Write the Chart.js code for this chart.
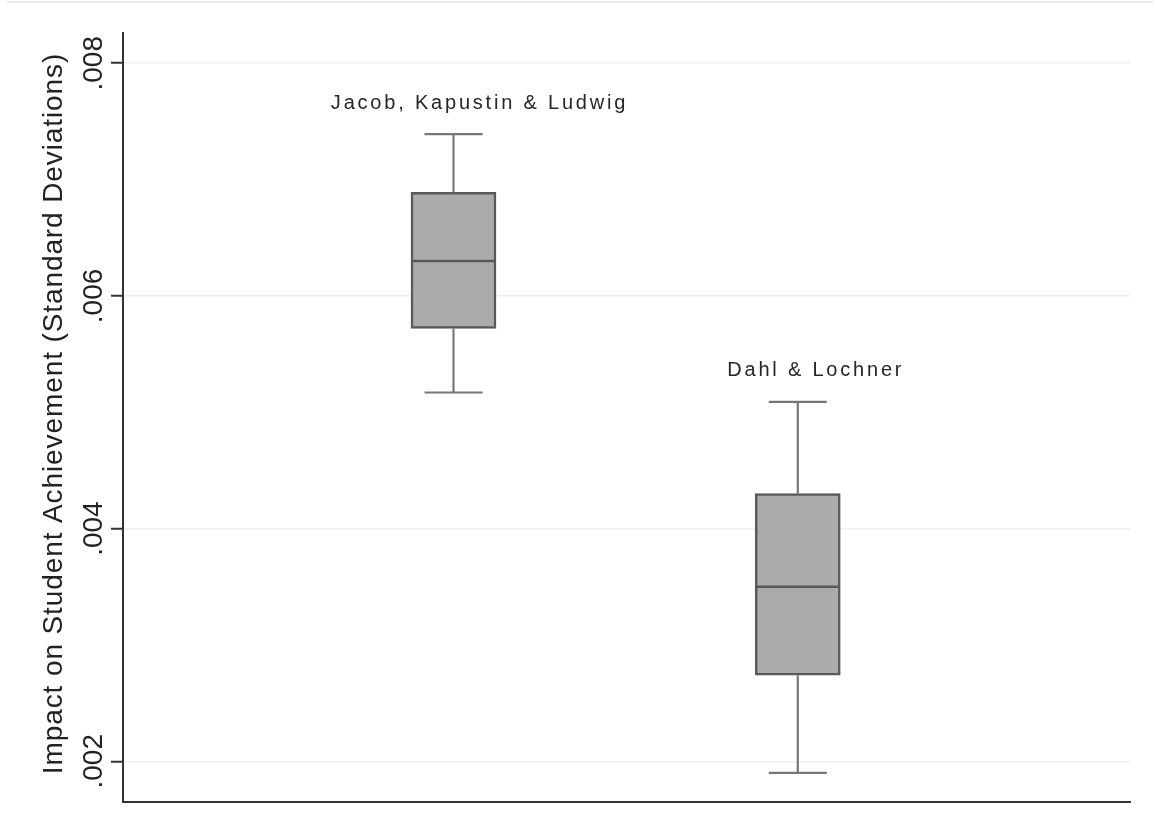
<!DOCTYPE html>
<html>
<head>
<meta charset="utf-8">
<script src="https://cdn.jsdelivr.net/npm/chart.js@4/dist/chart.umd.min.js"></script>
<style>
  html, body { margin: 0; padding: 0; background: #fff; }
  #wrap { position: relative; width: 1156px; height: 838px; }
  #rule { position: absolute; left: 7px; right: 3px; top: 1px; height: 2px; background: #ececec; }
  canvas { display: block; }
</style>
</head>
<body>
<div id="wrap">
  <div id="rule"></div>
  <canvas id="c" width="1156" height="838"></canvas>
</div>
<script>
// Box-plot summaries for each study
const studies     = ['Jacob, Kapustin & Ludwig', 'Dahl & Lochner'];
const whiskerLow  = [0.00517, 0.00190];
const quartile1   = [0.00572, 0.00274];
const medians     = [0.00630, 0.00350];
const quartile3   = [0.00689, 0.00430];
const whiskerHigh = [0.00739, 0.00509];

// Vertical axis
const yTickValues = [0.002, 0.004, 0.006, 0.008];
const yTickLabels = ['.002', '.004', '.006', '.008'];
const yTitle = 'Impact on Student Achievement (Standard Deviations)';

const FONT = '"Liberation Sans", Arial, sans-serif';

// Whiskers, medians, study names and rotated axis text
const boxPlotExtras = {
  id: 'boxPlotExtras',
  afterDraw(chart) {
    const { ctx, scales: { x, y } } = chart;
    const bars = chart.getDatasetMeta(0).data;
    const labelShift = [{ dx: 26, dy: -25 }, { dx: 18, dy: -26 }];
    ctx.save();

    studies.forEach((name, i) => {
      const cx = x.getPixelForValue(i + 1);
      const yHi = y.getPixelForValue(whiskerHigh[i]);
      const yLo = y.getPixelForValue(whiskerLow[i]);
      const yQ1 = y.getPixelForValue(quartile1[i]);
      const yQ3 = y.getPixelForValue(quartile3[i]);
      const yMed = y.getPixelForValue(medians[i]);
      const capHalf = 29;

      ctx.strokeStyle = '#777777';
      ctx.lineWidth = 2.2;
      ctx.lineCap = 'butt';
      ctx.beginPath();
      ctx.moveTo(cx, yQ3); ctx.lineTo(cx, yHi);
      ctx.moveTo(cx - capHalf, yHi); ctx.lineTo(cx + capHalf, yHi);
      ctx.moveTo(cx, yQ1); ctx.lineTo(cx, yLo);
      ctx.moveTo(cx - capHalf, yLo); ctx.lineTo(cx + capHalf, yLo);
      ctx.stroke();

      const bar = bars[i];
      const half = bar.width / 2;
      ctx.strokeStyle = '#585858';
      ctx.lineWidth = 2.5;
      ctx.beginPath();
      ctx.moveTo(bar.x - half + 1, yMed);
      ctx.lineTo(bar.x + half - 1, yMed);
      ctx.stroke();

      // study name above the upper whisker
      ctx.font = '20px ' + FONT;
      ctx.letterSpacing = '2.8px';
      ctx.fillStyle = '#262626';
      ctx.textAlign = 'left';
      ctx.textBaseline = 'alphabetic';
      const w = ctx.measureText(name).width;
      ctx.fillText(name, cx + labelShift[i].dx - w / 2, yHi + labelShift[i].dy);
    });

    // rotated tick labels
    ctx.letterSpacing = '0px';
    ctx.font = '28px ' + FONT;
    ctx.fillStyle = '#222222';
    ctx.textAlign = 'center';
    ctx.textBaseline = 'alphabetic';
    yTickValues.forEach((v, i) => {
      const py = y.getPixelForValue(v);
      ctx.save();
      ctx.translate(102, py);
      ctx.rotate(-Math.PI / 2);
      ctx.fillText(yTickLabels[i], 0, 0);
      ctx.restore();
    });

    // rotated axis title
    ctx.font = '28px ' + FONT;
    ctx.letterSpacing = '0.9px';
    ctx.save();
    ctx.translate(62, (chart.chartArea.top + chart.chartArea.bottom) / 2 - 4);
    ctx.rotate(-Math.PI / 2);
    ctx.fillText(yTitle, 0, 0);
    ctx.restore();

    ctx.restore();
  }
};

new Chart(document.getElementById('c'), {
  type: 'bar',
  data: {
    datasets: [{
      data: studies.map((s, i) => ({ x: i + 1, y: [quartile1[i], quartile3[i]] })),
      backgroundColor: '#ababab',
      borderColor: '#595959',
      borderWidth: 2.5,
      borderSkipped: false,
      barThickness: 85
    }]
  },
  options: {
    responsive: false,
    animation: false,
    events: [],
    layout: { padding: { top: 33, right: 26, left: 0, bottom: 0 } },
    plugins: { legend: { display: false }, tooltip: { enabled: false }, title: { display: false } },
    scales: {
      x: {
        type: 'linear',
        offset: false,
        min: 0.04,
        max: 2.965,
        afterFit: s => { s.height = 36; },
        grid: { display: false, drawTicks: false, offset: false },
        ticks: { display: false },
        border: { display: true, color: '#333333', width: 2 }
      },
      y: {
        type: 'linear',
        min: 0.00165,
        max: 0.00826,
        afterBuildTicks: s => { s.ticks = yTickValues.map(v => ({ value: v })); },
        afterFit: s => { s.width = 123; },
        ticks: { display: false },
        grid: { color: '#efefef', lineWidth: 1.5, drawTicks: true, tickLength: 12, tickColor: '#333333', tickWidth: 2 },
        border: { display: true, color: '#333333', width: 2 }
      }
    }
  },
  plugins: [boxPlotExtras]
});
</script>
</body>
</html>
